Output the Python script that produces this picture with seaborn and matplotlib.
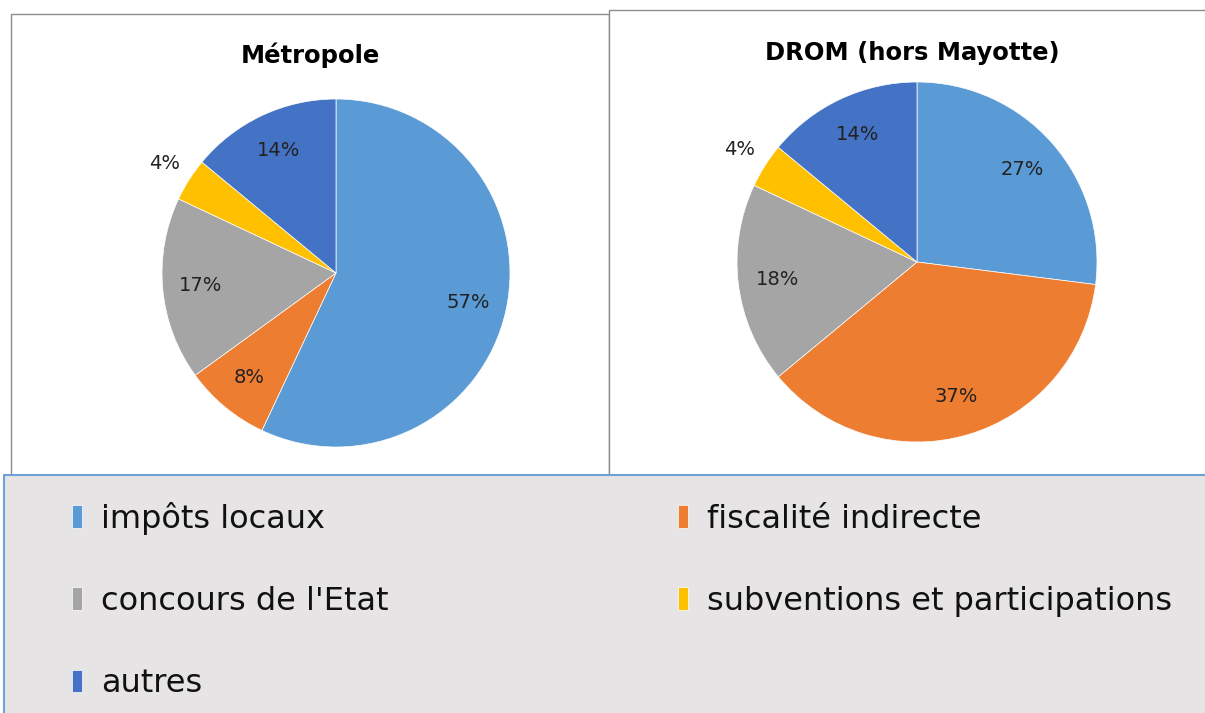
import seaborn as sns
import matplotlib.pyplot as plt
from matplotlib.patches import Rectangle

categories = ["impôts locaux", "fiscalité indirecte", "concours de l'Etat",
              "subventions et participations", "autres"]
metropole = [57, 8, 17, 4, 14]
drom = [27, 37, 18, 4, 14]
titles = ["Métropole", "DROM (hors Mayotte)"]
colors = ["#5B9BD5", "#ED7D31", "#A5A5A5", "#FFC000", "#4472C4"]

sns.set_theme(style="white")
plt.rcParams['font.family'] = ['DejaVu Sans']

W, H = 1205, 713
fig = plt.figure(figsize=(W / 100, H / 100), dpi=100)
pal = sns.color_palette(colors)

def px_box(x0, y0, x1, y1, **kw):
    # rectangle given in pixel coords (top-left origin), kept behind the pies
    r = Rectangle((x0 / W, 1 - y1 / H), (x1 - x0) / W, (y1 - y0) / H,
                  transform=fig.transFigure, zorder=-5, **kw)
    fig.add_artist(r)

# frames
px_box(11, 14, 609, 475, facecolor="white", edgecolor="#8c8c8c", lw=1)
px_box(609, 10, 1210, 475, facecolor="white", edgecolor="#8c8c8c", lw=1)
px_box(4, 475, 1210, 720, facecolor="#e6e4e5", edgecolor="#6fa0d8", lw=1.5)

def draw_pie(values, cx, cy, r, title, tx, ty):
    size = 2.5 * r
    ax = fig.add_axes([(cx - size / 2) / W, (H - cy - size / 2) / H, size / W, size / H])
    ax.patch.set_visible(False)
    wedges, texts, autotexts = ax.pie(values, colors=pal, startangle=90, counterclock=False,
                                      autopct='%1.0f%%', pctdistance=0.78,
                                      wedgeprops=dict(linewidth=0.5, edgecolor="white"),
                                      textprops=dict(fontsize=14, color="#222222"))
    for v, t in zip(values, autotexts):
        if v < 6:
            x, y = t.get_position()
            t.set_position((x * 1.5, y * 1.5))
    fig.text(tx / W, 1 - ty / H, title, ha="center", va="center",
             fontsize=17.5, fontweight="bold", color="black")
    return wedges

wedges = draw_pie(metropole, 336, 273, 174, titles[0], 310, 55)
draw_pie(drom, 917, 262, 180, titles[1], 912, 53)

order = [0, 2, 4, 1, 3]
leg = fig.legend([wedges[i] for i in order], [categories[i] for i in order],
                 ncol=2, loc="upper left", bbox_to_anchor=(59 / W, 1 - 496 / H, 1126 / W, 0.01),
                 mode="expand", frameon=False, fontsize=23,
                 handlelength=0.32, handleheight=0.7, handletextpad=0.6,
                 labelspacing=1.6, borderaxespad=0)
for t in leg.get_texts():
    t.set_color("#111111")

fig.savefig("out.png", dpi=100)
